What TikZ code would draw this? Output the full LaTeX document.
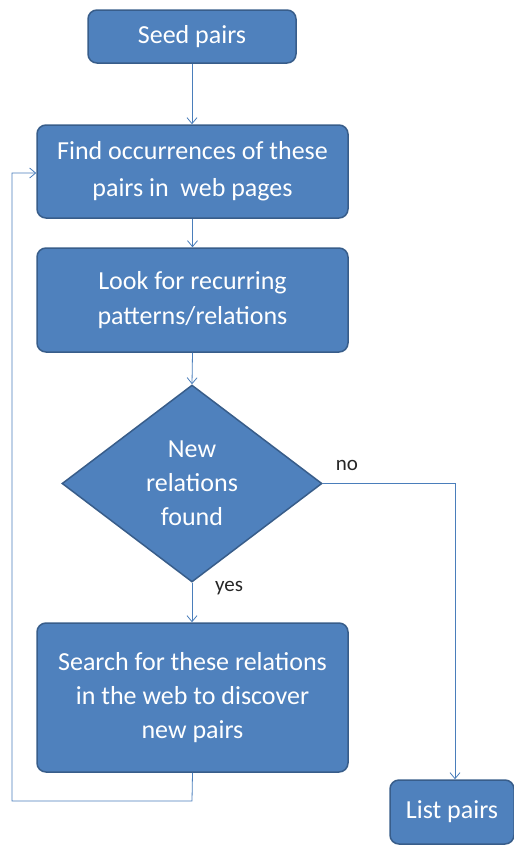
\documentclass[tikz,border=0pt]{standalone}
\usepackage{fontspec}
\setmainfont{Carlito}
\usetikzlibrary{shapes.geometric,arrows.meta}
\definecolor{boxfill}{HTML}{4F81BD}
\definecolor{boxline}{HTML}{385D8A}
\definecolor{conn}{HTML}{4A7EBB}
\tikzset{
  x=1pt,y=-1pt,
  stepbox/.style={draw=boxline,line width=1.5pt,fill=boxfill,rounded corners=9pt,text=white,
     align=center,inner sep=0pt,font=\fontsize{26}{35}\selectfont},
  decision/.style={diamond,draw=boxline,line width=1.5pt,fill=boxfill,text=white,align=center,
     inner sep=0pt,font=\fontsize{26}{34}\selectfont},
  conn/.style={draw=conn,line width=0.8pt,-{Straight Barb[length=6pt,width=10pt]}},
  lbl/.style={font=\fontsize{21}{24}\selectfont,text=black!85}
}
\begin{document}
\begin{tikzpicture}
\useasboundingbox (0,0) rectangle (514,852);
\node[stepbox,minimum width=208pt,minimum height=53pt] (seed) at (192,36.5) {Seed pairs};
\node[stepbox,minimum width=311pt,minimum height=93pt,font=\fontsize{26}{37}\selectfont] (find) at (192.5,171.5) {Find occurrences of these\\pairs in\ \ web pages};
\node[stepbox,minimum width=311pt,minimum height=104pt] (look) at (192.5,300) {Look for recurring\\patterns/relations};
\node[decision,minimum width=260pt,minimum height=197pt,aspect=1.32] (dec) at (192,483.5) {New\\relations\\found};
\node[stepbox,minimum width=311pt,minimum height=149pt,font=\fontsize{26}{34}\selectfont] (search) at (192.5,697.5) {Search for these relations\\in the web to discover\\new pairs};
\node[stepbox,minimum width=124pt,minimum height=64pt] (list) at (452,812) {List pairs};
\node[lbl] (no) at (347,465) {no};
\node[lbl] (yes) at (229,588) {yes};
\coordinate (c1) at (192,801);
\coordinate (c2) at (12,801);
\coordinate (c3) at (12,173);
\coordinate (c4) at (455,483.5);
\draw[conn] (seed.south) -- (seed.south |- find.north);
\draw[conn] (find.south) -- (find.south |- look.north);
\draw[conn] (look.south) -- (dec.north);
\draw[conn] (dec.south) -- (dec.south |- search.north);
\draw[conn] (dec.east) -- (c4) -- (c4 |- list.north);
\draw[conn] (search.south) -- (c1) -- (c2) -- (c3) -- (c3 -| find.west);
\end{tikzpicture}
\end{document}
